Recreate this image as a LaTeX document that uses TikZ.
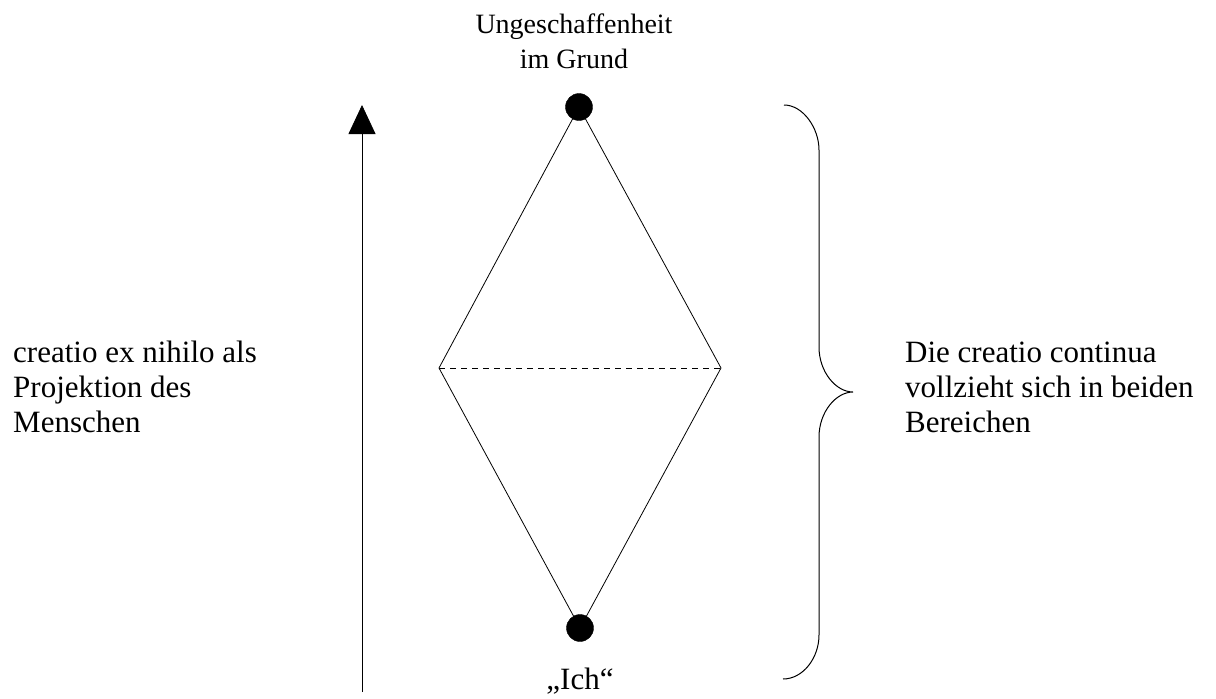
\documentclass[tikz,border=0pt]{standalone}
\usepackage{fontspec}
\setmainfont{Liberation Serif}
\usetikzlibrary{arrows.meta}

\begin{document}
\begin{tikzpicture}
    [ x=1pt, y=-1pt,
      dot/.style={circle, draw=black, fill=black, minimum width=27pt, minimum height=25pt, inner sep=0pt},
      edge/.style={black, line width=0.8pt},
      dashedEdge/.style={black, line width=0.8pt, dash pattern=on 6pt off 5pt},
      arrow/.style={black, line width=0.8pt, -{Triangle[length=29pt,width=27pt]}},
      brace/.style={black, line width=1pt},
      label/.style={inner sep=0pt, font=\fontsize{31}{35}\selectfont},
      smallLabel/.style={inner sep=0pt, font=\fontsize{28}{35}\selectfont}]

  \useasboundingbox (0,0) rectangle (1216,699);

%%%%%%%%%%%%%%%%%%%%%%%%%%%%%%%%%%%%%%%%%%%%%%%%%%%%%%%%%%%%%%%%%%%%%%%%%%%%%%%%%%%%%%%%%%%%%%%%%%%%%%%%%%
%draw diamond
	  \coordinate (leftCorner) at (439,368);
	  \coordinate (rightCorner) at (721,368);
	  \coordinate (topCorner) at (579,107);
	  \coordinate (bottomCorner) at (580,628);

	  \draw[edge] (topCorner) -- (leftCorner) -- (bottomCorner) -- (rightCorner) -- cycle;
	  \draw[dashedEdge] (leftCorner) -- (rightCorner);

	  \node[dot] (topDot) at (topCorner) {};
	  \node[dot] (bottomDot) at (bottomCorner) {};

	  % base of a two line node is its last line
	  \node[smallLabel, align=center, anchor=base] (topLabel) at (574,68) {Ungeschaffenheit\\im Grund};
	  \node[label, anchor=base] (ichLabel) at (580,689) {„Ich“};

%%%%%%%%%%%%%%%%%%%%%%%%%%%%%%%%%%%%%%%%%%%%%%%%%%%%%%%%%%%%%%%%%%%%%%%%%%%%%%%%%%%%%%%%%%%%%%%%%%%%%%%%%%
%arrow and brace
	  \coordinate (arrowFoot) at (362,692);
	  \coordinate (arrowTip) at (362,105);
	  \draw[arrow] (arrowFoot) -- (arrowTip);

	  \coordinate (braceTop) at (784,105);
	  \coordinate (braceTip) at (853,392);
	  \coordinate (braceBottom) at (783,679);
	  \draw[brace] (braceTop) .. controls (803,105) and (819,128) .. (819,150) -- (819,347)
	        .. controls (819,372) and (836,392) .. (braceTip)
	        .. controls (836,392) and (819,412) .. (819,437) -- (819,635)
	        .. controls (819,658) and (803,679) .. (braceBottom);

	  \node[label, align=left, anchor=base west] (leftLabel) at (13,432) {creatio ex nihilo als\\Projektion des\\Menschen};
	  \node[label, align=left, anchor=base west] (rightLabel) at (905,432) {Die creatio continua\\vollzieht sich in beiden\\Bereichen};

\end{tikzpicture}
\end{document}
